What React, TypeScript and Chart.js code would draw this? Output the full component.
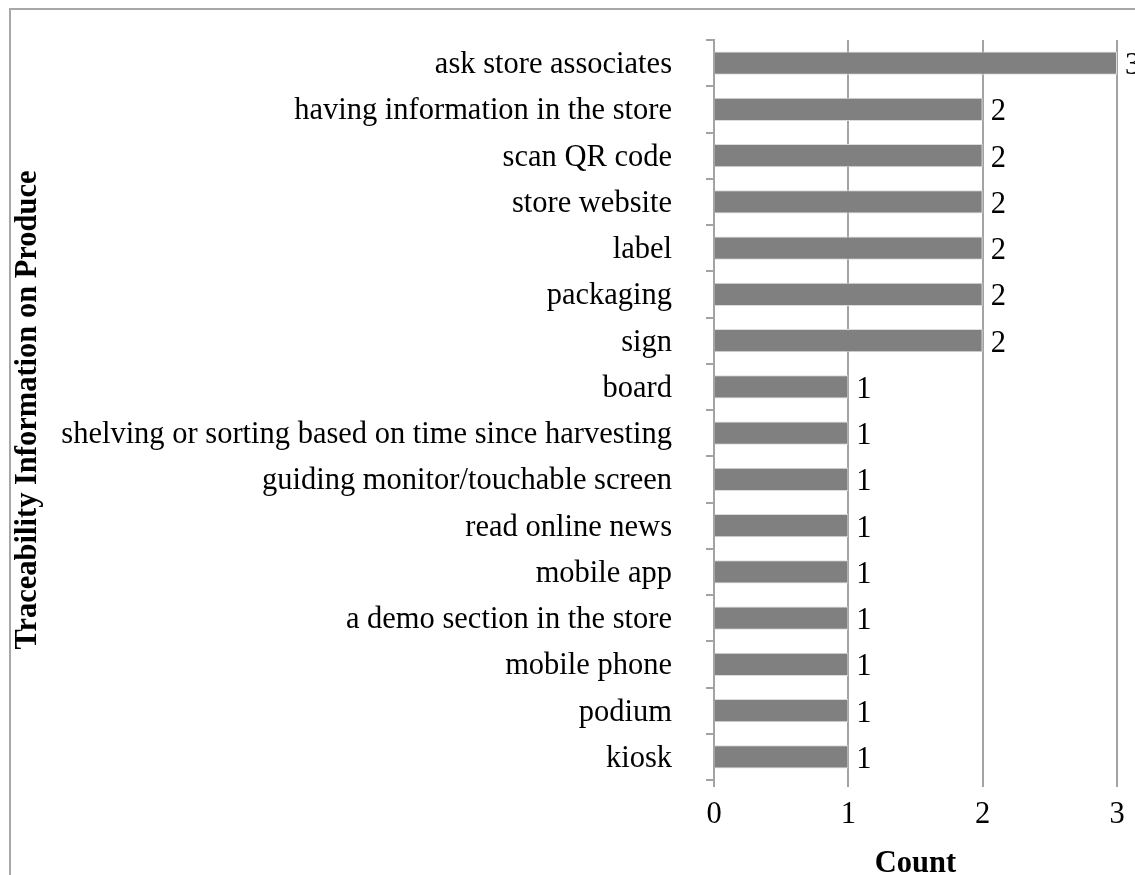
import React, { useEffect, useRef } from "react";
import { Chart, registerables } from "chart.js";

Chart.register(...registerables);

const categories: string[] = [
  "ask store associates",
  "having information in the store",
  "scan QR code",
  "store website",
  "label",
  "packaging",
  "sign",
  "board",
  "shelving or sorting based on time since harvesting",
  "guiding monitor/touchable screen",
  "read online news",
  "mobile app",
  "a demo section in the store",
  "mobile phone",
  "podium",
  "kiosk",
];

const counts: number[] = [3, 2, 2, 2, 2, 2, 2, 1, 1, 1, 1, 1, 1, 1, 1, 1];

const xTicks: number[] = [0, 1, 2, 3];

const SERIF = '"Liberation Serif", "Times New Roman", Times, serif';
const GRID = "#a3a3a3";
const FONT_SIZE = 30.5;

// Thin frame along the top and left edges of the figure
const framePlugin = {
  id: "frame",
  beforeDraw(chart: any) {
    const ctx = chart.ctx;
    ctx.save();
    ctx.strokeStyle = "#a8a8a8";
    ctx.lineWidth = 2;
    ctx.beginPath();
    ctx.moveTo(10, chart.height);
    ctx.lineTo(10, 9);
    ctx.lineTo(chart.width, 9);
    ctx.stroke();
    ctx.restore();
  },
};

// Value labels to the right of each bar
const valueLabels = {
  id: "valueLabels",
  afterDatasetsDraw(chart: any) {
    const ctx = chart.ctx;
    const meta = chart.getDatasetMeta(0);
    const data = chart.data.datasets[0].data as number[];
    ctx.save();
    ctx.font = `${FONT_SIZE}px ${SERIF}`;
    ctx.fillStyle = "#000";
    ctx.textAlign = "left";
    ctx.textBaseline = "middle";
    meta.data.forEach((bar: any, i: number) => {
      ctx.fillText(String(data[i]), bar.x + 8, bar.y + 3);
    });
    ctx.restore();
  },
};

export default function App() {
  const canvasRef = useRef<HTMLCanvasElement | null>(null);

  useEffect(() => {
    document.body.style.margin = "0";
    const canvas = canvasRef.current;
    if (!canvas) return;
    const chart = new Chart(canvas, {
      type: "bar",
      data: {
        labels: categories,
        datasets: [
          {
            data: counts,
            backgroundColor: "#808080",
            borderColor: "#dcdcdc",
            borderWidth: 1,
            barPercentage: 0.5,
            categoryPercentage: 1,
          },
        ],
      },
      options: {
        indexAxis: "y",
        animation: false,
        responsive: false,
        maintainAspectRatio: false,
        layout: { padding: { top: 40, right: 18, bottom: 0, left: 0 } },
        plugins: {
          legend: { display: false },
          tooltip: { enabled: false },
        },
        scales: {
          x: {
            type: "linear",
            min: 0,
            max: 3,
            afterBuildTicks(scale: any) {
              scale.ticks = xTicks.map((v) => ({ value: v }));
            },
            afterFit(scale: any) {
              scale.height = 95;
              scale.paddingLeft = 0;
              scale.paddingRight = 0;
            },
            grid: {
              color: GRID,
              lineWidth: 2,
              drawTicks: true,
              tickLength: 7,
              tickColor: GRID,
            },
            border: { display: false },
            ticks: {
              color: "#000",
              font: { family: SERIF, size: FONT_SIZE },
              padding: 10,
            },
            title: {
              display: true,
              text: "Count",
              color: "#000",
              font: { family: SERIF, size: FONT_SIZE, weight: "bold", lineHeight: 1 },
              padding: { top: 0, bottom: -4 },
            },
          },
          y: {
            type: "category",
            afterFit(scale: any) {
              scale.width = 714;
              scale.paddingTop = 0;
              scale.paddingBottom = 0;
            },
            grid: {
              offset: true,
              drawOnChartArea: false,
              drawTicks: true,
              tickLength: 8,
              tickColor: GRID,
              lineWidth: 2,
            },
            border: { display: true, color: GRID, width: 2 },
            ticks: {
              color: "#000",
              font: { family: SERIF, size: FONT_SIZE },
              padding: 34,
              labelOffset: 2,
              autoSkip: false,
            },
            title: {
              display: true,
              text: "Traceability Information on Produce",
              color: "#000",
              font: { family: SERIF, size: FONT_SIZE, weight: "bold", lineHeight: 1.2 },
              padding: { top: 10, bottom: 0 },
            },
          },
        },
      },
      plugins: [framePlugin, valueLabels],
    });
    return () => chart.destroy();
  }, []);

  return (
    <div style={{ position: "absolute", left: 0, top: 0, width: 1135, height: 875 }}>
      <canvas ref={canvasRef} width={1135} height={875} />
    </div>
  );
}
